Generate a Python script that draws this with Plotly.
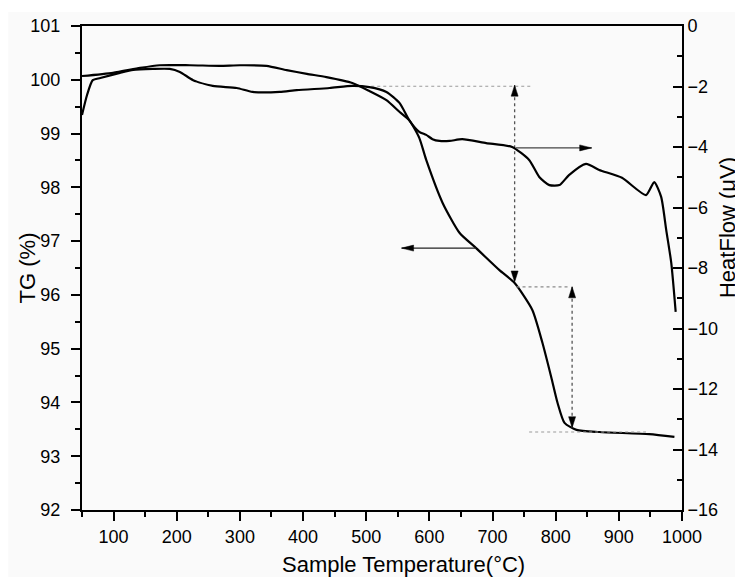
import plotly.graph_objects as go

# ---------------- data ----------------
T_TG = [50, 99, 142, 173, 221, 268, 300, 342, 374, 406, 437, 478, 505, 532, 553, 568,
        584, 595, 621, 648, 674, 711, 735, 763, 779, 793, 803, 814, 833, 869, 948, 988]
TG = [100.07, 100.13, 100.22, 100.27, 100.27, 100.26, 100.27, 100.26, 100.18, 100.11,
      100.05, 99.94, 99.79, 99.62, 99.40, 99.25, 98.92, 98.51, 97.71, 97.15, 96.87,
      96.46, 96.22, 95.72, 95.11, 94.47, 93.99, 93.62, 93.49, 93.45, 93.41, 93.36]

T_HF = [50, 58, 67, 79, 110, 131, 162, 189, 205, 226, 257, 295, 320, 363, 390, 442, 478,
        505, 532, 553, 568, 584, 595, 605, 616, 632, 652, 690, 731, 758, 774, 790, 806,
        821, 848, 869, 905, 943, 956, 967, 975, 983, 990]
HF = [-2.94, -2.28, -1.79, -1.72, -1.55, -1.45, -1.42, -1.42, -1.52, -1.79, -1.98, -2.05,
      -2.18, -2.18, -2.12, -2.05, -1.98, -2.02, -2.18, -2.55, -3.11, -3.50, -3.60, -3.74,
      -3.80, -3.80, -3.74, -3.87, -4.00, -4.43, -4.99, -5.26, -5.26, -4.93, -4.56, -4.76,
      -5.02, -5.59, -5.16, -5.65, -6.74, -7.83, -9.45]

# annotation guide values
arrow_tg_T = [674, 556]      # tail, head (left pointing), on TG axis
arrow_tg_y = 96.87
arrow_hf_T = [737, 857]      # tail, head (right pointing), on HeatFlow axis
arrow_hf_y = -4.03

h1_T, h1_y = [508, 763], 99.88          # dotted horizontal guides (TG axis)
h2_T, h2_y = [738, 822], 96.15
h3_T, h3_y = [758, 943], 93.45
v1_T, v1_y = 735, [99.90, 96.24]        # dotted vertical double arrows
v2_T, v2_y = 826, [96.15, 93.53]

x_ticks = list(range(100, 1001, 100))

FONT = "Liberation Sans, Arial, sans-serif"
BG = "#fafafa"

fig = go.Figure()

fig.add_trace(go.Scatter(x=T_TG, y=TG, mode="lines", line=dict(color="black", width=2.2, shape="spline", smoothing=0.6),
                         name="TG", yaxis="y"))
fig.add_trace(go.Scatter(x=T_HF, y=HF, mode="lines", line=dict(color="black", width=2.2, shape="spline", smoothing=0.6),
                         name="HeatFlow", yaxis="y2"))

# dotted guide lines
for xs, yv, col in [(h1_T, h1_y, "#9a9a9a"), (h2_T, h2_y, "#8a8a8a"), (h3_T, h3_y, "#9a9a9a")]:
    fig.add_trace(go.Scatter(x=xs, y=[yv, yv], mode="lines", line=dict(color=col, width=1.2, dash="dot"),
                             yaxis="y", hoverinfo="skip"))
for xv, ys in [(v1_T, v1_y), (v2_T, v2_y)]:
    fig.add_trace(go.Scatter(x=[xv, xv], y=ys, mode="lines", line=dict(color="#555555", width=1.3, dash="dot"),
                             yaxis="y", hoverinfo="skip"))

# solid arrow shafts
fig.add_trace(go.Scatter(x=arrow_tg_T, y=[arrow_tg_y, arrow_tg_y], mode="lines",
                         line=dict(color="#222222", width=1.3), yaxis="y", hoverinfo="skip"))
fig.add_trace(go.Scatter(x=arrow_hf_T, y=[arrow_hf_y, arrow_hf_y], mode="lines",
                         line=dict(color="#444444", width=1.3), yaxis="y2", hoverinfo="skip"))

shapes = []
def head(xa, ya, yref, path):
    shapes.append(dict(type="path", xref="x", yref=yref, xsizemode="pixel", ysizemode="pixel",
                       xanchor=xa, yanchor=ya, path=path, fillcolor="black",
                       line=dict(color="black", width=0.5), layer="above"))

LEFT = "M0,0 L12,3 L12,-3 Z"
RIGHT = "M0,0 L-12,3 L-12,-3 Z"
UP = "M0,0 L-3.5,-11 L3.5,-11 Z"
DOWN = "M0,0 L-3.5,11 L3.5,11 Z"
head(arrow_tg_T[1], arrow_tg_y, "y", LEFT)
head(arrow_hf_T[1], arrow_hf_y, "y2", RIGHT)
head(v1_T, v1_y[0], "y", UP)
head(v1_T, v1_y[1], "y", DOWN)
head(v2_T, v2_y[0], "y", UP)
head(v2_T, v2_y[1], "y", DOWN)

# white edge bands of the original image
shapes.append(dict(type="rect", xref="paper", yref="paper", x0=-0.2, x1=1.2, y0=1.029, y1=1.1,
                   fillcolor="white", line=dict(width=0), layer="below"))
shapes.append(dict(type="rect", xref="paper", yref="paper", x0=-0.2, x1=-0.123, y0=-0.2, y1=1.1,
                   fillcolor="white", line=dict(width=0), layer="below"))

tickfont = dict(family=FONT, size=18, color="black")
titlefont = dict(family=FONT, size=22, color="black")

fig.update_layout(
    width=735, height=577,
    margin=dict(l=82, r=53, t=26, b=67),
    paper_bgcolor=BG, plot_bgcolor=BG,
    showlegend=False,
    shapes=shapes,
    xaxis=dict(range=[50, 1000], tickvals=x_ticks, ticks="outside", ticklen=9, tickwidth=1.5,
               showline=True, linecolor="black", linewidth=2, mirror=True, showgrid=False, zeroline=False,
               tickfont=tickfont, tickcolor="black",
               minor=dict(dtick=50, tick0=50, ticks="outside", ticklen=5, tickwidth=1.5, tickcolor="black")),
    yaxis=dict(range=[92, 101], dtick=1, ticks="outside", ticklen=9, tickwidth=1.5, ticklabelstandoff=7,
               showline=True, linecolor="black", linewidth=2, showgrid=False, zeroline=False,
               tickfont=tickfont, tickcolor="black",
               minor=dict(dtick=0.5, ticks="outside", ticklen=5, tickwidth=1.5, tickcolor="black")),
    yaxis2=dict(range=[-16, 0], dtick=2, overlaying="y", side="right", ticks="inside", ticklen=9, tickwidth=1.5,
                showline=True, linecolor="black", linewidth=2, showgrid=False, zeroline=False,
                tickfont=tickfont, tickcolor="black",
                minor=dict(dtick=1, ticks="inside", ticklen=5, tickwidth=1.5, tickcolor="black")),
    annotations=[
        dict(text="Sample Temperature(°C)", xref="paper", yref="paper", x=0.536, y=-0.112,
             xanchor="center", yanchor="middle", showarrow=False, font=titlefont),
        dict(text="TG (%)", xref="paper", yref="paper", x=-0.091, y=0.5, textangle=-90,
             xanchor="center", yanchor="middle", showarrow=False, font=titlefont),
        dict(text="HeatFlow (μV)", xref="paper", yref="paper", x=1.077, y=0.583, textangle=-90,
             xanchor="center", yanchor="middle", showarrow=False, font=titlefont),
    ],
)

fig.write_html("out.html")
